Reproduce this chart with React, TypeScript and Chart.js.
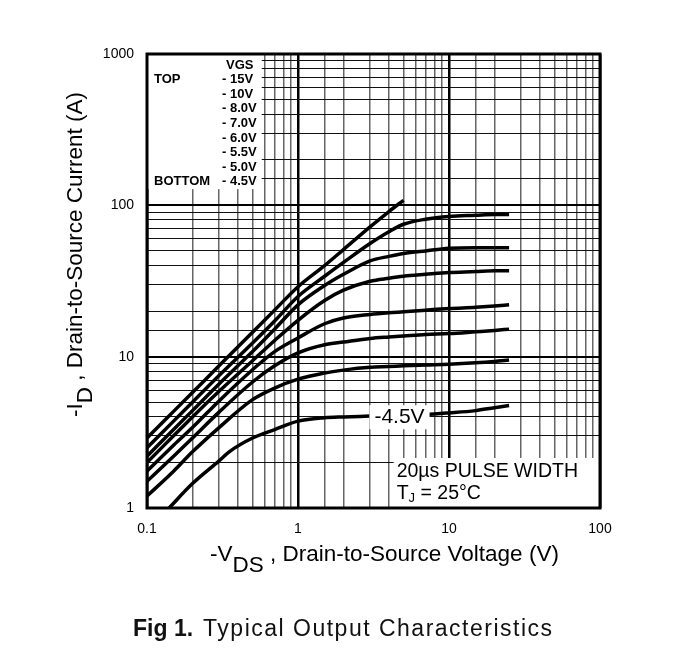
import React, { useEffect, useRef } from 'react';
import { Chart, registerables } from 'chart.js';

Chart.register(...registerables);

// -VDS sample points (V)
const VDS = [0.1, 0.15, 0.2, 0.3, 0.5, 0.7, 1, 1.5, 2, 3, 4, 5, 7, 10, 15, 20, 25];
const VDS_TOP = [0.1, 0.15, 0.2, 0.3, 0.5, 0.7, 1, 1.5, 2, 3, 4, 5];
const VDS_BOTTOM = [0.14, 0.2, 0.3, 0.35, 0.5, 0.7, 1, 1.5, 2, 3, 5, 7, 10, 15, 20, 25];

// -ID (A) for each VGS curve
const ID_15V = [2.9, 4.35, 5.8, 8.7, 14.5, 20.3, 29, 40, 51, 72, 91, 108];
const ID_10V = [2.5, 3.75, 5.0, 7.5, 12.3, 17.2, 25, 34, 42, 56, 67, 75, 81, 84.5, 86, 87, 87];
const ID_8V = [2.2, 3.3, 4.4, 6.6, 10.8, 15.2, 22, 29.5, 35, 43, 46, 48, 50, 52, 52.5, 52.5, 52.5];
const ID_7V = [2.0, 3.0, 4.0, 5.9, 9.4, 12.8, 17.4, 23.5, 27.5, 31.5, 33, 34, 35, 36, 36.5, 37, 37];
const ID_6V = [1.75, 2.6, 3.4, 5.1, 8.2, 10.8, 13.3, 16.5, 18, 19, 19.5, 19.8, 20.3, 20.8, 21.2, 21.6, 22];
const ID_55V = [1.5, 2.2, 2.9, 4.3, 6.8, 8.7, 10.6, 12, 12.5, 13.2, 13.5, 13.7, 14, 14.2, 14.6, 14.9, 15.2];
const ID_5V = [1.2, 1.75, 2.35, 3.4, 5.2, 6.2, 7.1, 7.8, 8.15, 8.5, 8.6, 8.7, 8.8, 8.9, 9.1, 9.3, 9.5];
const ID_45V = [1.0, 1.45, 2.05, 2.35, 2.9, 3.3, 3.75, 3.95, 4.0, 4.05, 4.12, 4.15, 4.25, 4.4, 4.6, 4.75];

const VGS_LABELS = ['- 15V', '- 10V', '- 8.0V', '- 7.0V', '- 6.0V', '- 5.5V', '- 5.0V', '- 4.5V'];
const X_MIN = 0.1;
const X_MAX = 100;
const Y_MIN = 1;
const Y_MAX = 1000;

const FONT = '"Liberation Sans", Arial, Helvetica, sans-serif';

const isDecade = (v: number) => {
  const l = Math.log10(v);
  return Math.abs(l - Math.round(l)) < 1e-6;
};

const toPts = (xs: number[], ys: number[]) => xs.map((x, i) => ({ x, y: ys[i] }));

export default function App() {
  const ref = useRef<HTMLCanvasElement>(null);

  useEffect(() => {
    if (!ref.current) return;

    const overlay = {
      id: 'overlay',
      beforeDatasetsDraw(chart: any) {
        const { ctx, chartArea: a, scales } = chart;
        const xs = scales.x;
        const ys = scales.y;
        ctx.save();
        // legend box (blanks grid)
        const lx = xs.getPixelForValue(0.575);
        const ly = ys.getPixelForValue(128);
        ctx.fillStyle = '#fff';
        ctx.fillRect(a.left, a.top, lx - a.left, ly - a.top);
        ctx.fillStyle = '#000';
        ctx.font = `bold 13px ${FONT}`;
        ctx.textBaseline = 'middle';
        ctx.textAlign = 'left';
        const row0 = a.top + 11;
        const step = 14.6;
        ctx.fillText('VGS', a.left + 79, row0);
        VGS_LABELS.forEach((t, i) => {
          ctx.fillText(t, a.left + 75, row0 + step * (i + 1));
        });
        ctx.fillText('TOP', a.left + 7, row0 + step);
        ctx.fillText('BOTTOM', a.left + 7, row0 + step * 8);

        // bottom-right note box
        const bx = xs.getPixelForValue(4.3);
        const by = ys.getPixelForValue(2.14);
        ctx.fillStyle = '#fff';
        ctx.fillRect(bx, by, a.right - bx, a.bottom - by);
        ctx.fillStyle = '#000';
        ctx.textBaseline = 'alphabetic';
        ctx.font = `19.5px ${FONT}`;
        const tx = bx + 3;
        ctx.fillText('20\u00b5s PULSE WIDTH', tx, a.bottom - 31);
        ctx.fillText('T', tx, a.bottom - 9);
        const tW = ctx.measureText('T').width;
        ctx.font = `13px ${FONT}`;
        ctx.fillText('J', tx + tW, a.bottom - 6);
        const jW = ctx.measureText('J').width;
        ctx.font = `19.5px ${FONT}`;
        ctx.fillText(' = 25\u00b0C', tx + tW + jW, a.bottom - 9);
        ctx.restore();
      },
      afterDatasetsDraw(chart: any) {
        const { ctx, chartArea: a, scales } = chart;
        ctx.save();
        // -4.5V label on the bottom curve
        const cx = scales.x.getPixelForValue(4.7);
        const cy = scales.y.getPixelForValue(4.1) + 2;
        ctx.font = `21px ${FONT}`;
        const w = ctx.measureText('-4.5V').width;
        ctx.fillStyle = '#fff';
        ctx.fillRect(cx - w / 2 - 5, cy - 12, w + 10, 24);
        ctx.fillStyle = '#000';
        ctx.textAlign = 'center';
        ctx.textBaseline = 'middle';
        ctx.fillText('-4.5V', cx, cy);
        // frame
        ctx.strokeStyle = '#000';
        ctx.lineWidth = 3;
        ctx.strokeRect(a.left, a.top, a.right - a.left, a.bottom - a.top);
        ctx.restore();
      },
      afterDraw(chart: any) {
        const { ctx } = chart;
        ctx.save();
        ctx.fillStyle = '#000';
        ctx.textBaseline = 'alphabetic';
        ctx.textAlign = 'left';
        ctx.font = `22.5px ${FONT}`;
        // x title
        let x = 210;
        ctx.fillText('-V', x, 561);
        x += ctx.measureText('-V').width;
        ctx.fillText('DS', x, 572);
        x += ctx.measureText('DS').width;
        ctx.fillText(' , Drain-to-Source Voltage (V)', x, 561);
        // y title (rotated)
        ctx.save();
        ctx.translate(82, 417);
        ctx.rotate(-Math.PI / 2);
        let p = 0;
        ctx.fillText('-I', p, 0);
        p += ctx.measureText('-I').width;
        ctx.fillText('D', p, 10);
        p += ctx.measureText('D').width;
        ctx.fillText(' , Drain-to-Source Current (A)', p, 0);
        ctx.restore();
        ctx.restore();
      },
    };

    const mk = (data: { x: number; y: number }[]) => ({
      data,
      borderColor: '#000',
      borderWidth: 3.5,
      pointRadius: 0,
      fill: false,
      cubicInterpolationMode: 'monotone' as const,
    });

    const chart = new Chart(ref.current, {
      type: 'line',
      data: {
        datasets: [
          mk(toPts(VDS_TOP, ID_15V)),
          mk(toPts(VDS, ID_10V)),
          mk(toPts(VDS, ID_8V)),
          mk(toPts(VDS, ID_7V)),
          mk(toPts(VDS, ID_6V)),
          mk(toPts(VDS, ID_55V)),
          mk(toPts(VDS, ID_5V)),
          mk(toPts(VDS_BOTTOM, ID_45V)),
        ],
      },
      options: {
        animation: false,
        responsive: false,
        layout: { padding: { left: 0, top: 54, right: 76, bottom: 0 } },
        plugins: { legend: { display: false }, tooltip: { enabled: false } },
        scales: {
          x: {
            type: 'logarithmic',
            min: X_MIN,
            max: X_MAX,
            afterFit: (s: any) => {
              s.height = 154;
            },
            border: { display: false },
            grid: {
              drawTicks: false,
              color: (c: any) => (c.tick && isDecade(c.tick.value) ? '#000' : '#666'),
              lineWidth: (c: any) => (c.tick && isDecade(c.tick.value) ? 2.5 : 1.5),
            },
            ticks: {
              autoSkip: false,
              maxRotation: 0,
              padding: 13,
              color: '#000',
              font: { family: FONT, size: 14 },
              callback: (v: any) => (isDecade(Number(v)) ? String(Number(v)) : ''),
            },
          },
          y: {
            type: 'logarithmic',
            min: Y_MIN,
            max: Y_MAX,
            afterFit: (s: any) => {
              s.width = 147;
            },
            border: { display: false },
            grid: {
              drawTicks: false,
              color: (c: any) => (c.tick && isDecade(c.tick.value) ? '#000' : '#111'),
              lineWidth: (c: any) => (c.tick && isDecade(c.tick.value) ? 2 : 1),
            },
            ticks: {
              autoSkip: false,
              padding: 13,
              color: '#000',
              font: { family: FONT, size: 14 },
              callback: (v: any) => (isDecade(Number(v)) ? String(Number(v)) : ''),
            },
          },
        },
      },
      plugins: [overlay],
    });
    return () => chart.destroy();
  }, []);

  return (
    <div style={{ position: 'fixed', left: 0, top: 0, width: 676, height: 662, background: '#fff' }}>
      <canvas ref={ref} width={676} height={662} style={{ width: 676, height: 662, display: 'block' }} />
      <div
        style={{
          position: 'absolute',
          left: 133,
          top: 617,
          fontFamily: FONT,
          fontSize: 23,
          lineHeight: '23px',
          whiteSpace: 'pre',
          color: '#111',
        }}
      >
        <b>Fig 1.</b>
        <span style={{ marginLeft: 10, letterSpacing: '1.5px' }}>Typical Output Characteristics</span>
      </div>
    </div>
  );
}
